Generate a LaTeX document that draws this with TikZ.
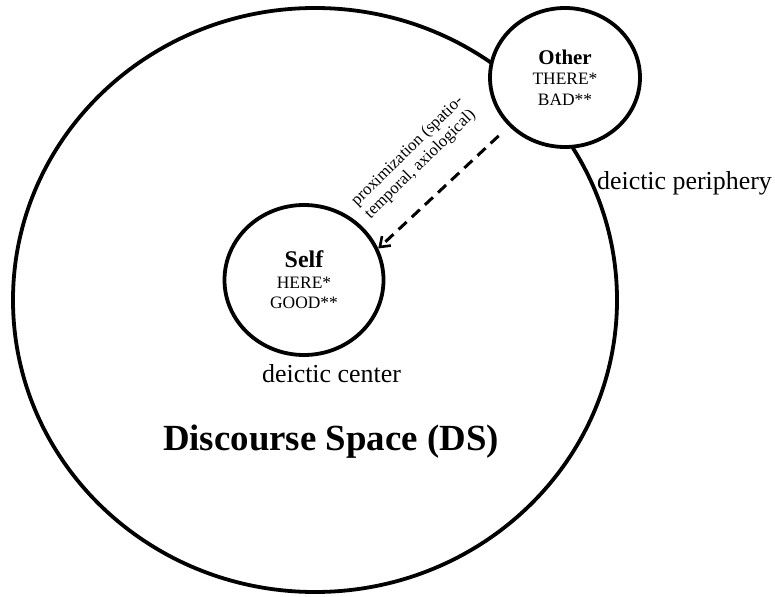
\documentclass[tikz,border=0pt]{standalone}
\usepackage{fontspec}
\setmainfont{Liberation Serif}
\usetikzlibrary{arrows.meta,shapes.geometric}
\tikzset{
  ring/.style={ellipse, draw, line width=3.8bp, inner sep=0pt, fill=white, align=center,
    font=\fontsize{17.5}{20.5}\selectfont},
  lbl/.style={font=\fontsize{26}{28}\selectfont, inner sep=0pt, anchor=base},
  conn/.style={line width=3bp, dash pattern=on 11bp off 7bp,
    -{Straight Barb[length=9bp,width=13bp,line width=2.6bp]}}
}
\begin{document}
\begin{tikzpicture}[x=1bp,y=-1bp]
\useasboundingbox (0,0) rectangle (775,597);
\node[ring, minimum width=604bp, minimum height=584bp] (ds) at (315,300) {};
\node[ring, minimum width=150bp, minimum height=139bp] (other) at (565,77.5)
  {{\fontsize{21}{20.5}\selectfont\bfseries Other}\\THERE*\\BAD**};
\node[ring, minimum width=159bp, minimum height=150bp] (self) at (304,280)
  {{\fontsize{24}{20.5}\selectfont\bfseries Self}\\HERE*\\GOOD**};
\node[lbl] (center) at (331.5,382) {deictic center};
\node[lbl] (periph) at (684.5,190) {deictic periphery};
\node[inner sep=0pt, anchor=base, font=\fontsize{37}{40}\selectfont\bfseries] (dslbl) at (331,450) {Discourse Space (DS)};
\draw[conn, shorten <=14bp] (other.221.6) -- (self.23);
\node[align=center, inner sep=0pt, rotate=44.5, font=\fontsize{16.8}{18.5}\selectfont] (prox) at (414,158) {proximization (spatio-\\temporal, axiological)};
\end{tikzpicture}
\end{document}
